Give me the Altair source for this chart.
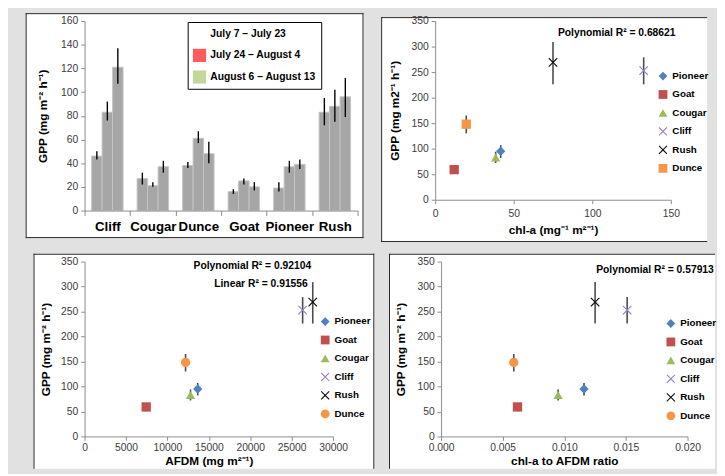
import altair as alt
import pandas as pd

FONT = "Liberation Sans, Arial, sans-serif"
FRAME = "#262626"
AXIS_GRAY = "#8c8c8c"
LABEL = "#3a3a3a"

# ---------------- Panel 1: bar chart data ----------------
sites_bar = ["Cliff", "Cougar", "Dunce", "Goat", "Pioneer", "Rush"]
periods = ["July 7 – July 23", "July 24 – August 4", "August 6 – August 13"]
period_colors = ["#ffffff", "#ff5b5f", "#c4d79b"]
gpp_period1 = [46, 27, 38, 16, 19, 83]
gpp_period2 = [83, 21, 61, 25, 37, 88]
gpp_period3 = [121, 37, 48, 20, 39, 96]
lo_period1 = [43, 22, 36, 14, 16, 72]
hi_period1 = [50, 32, 41, 18, 24, 95]
lo_period2 = [76, 20, 57, 22, 32, 75]
hi_period2 = [92, 24, 67, 27, 42, 102]
lo_period3 = [107, 32, 40, 17, 35, 79]
hi_period3 = [137, 42, 58, 24, 43, 112]
y1_ticks = [0, 20, 40, 60, 80, 100, 120, 140, 160]

# ---------------- Panels 2-4: scatter data ----------------
sites = ["Pioneer", "Goat", "Cougar", "Cliff", "Rush", "Dunce"]
site_colors = ["#4f81bd", "#c0504d", "#9bbb59", "#9a86c0", "#111111", "#f79646"]
gpp_total = [95, 59, 83, 253, 269, 148]
gpp_lo = [82, 51, 72, 226, 226, 130]
gpp_hi = [107, 67, 94, 279, 309, 165]
chla = [41.7, 12.1, 38.5, 132.7, 75.0, 19.8]
afdm = [13660, 7440, 12790, 26330, 27550, 12190]
ratio = [0.0116, 0.0062, 0.0095, 0.0151, 0.0125, 0.0059]
y_ticks = [0, 50, 100, 150, 200, 250, 300, 350]
chla_ticks = [0, 50, 100, 150]
afdm_ticks = [0, 5000, 10000, 15000, 20000, 25000, 30000]
ratio_ticks = [0.0, 0.005, 0.010, 0.015, 0.020]
notes_chla = ["Polynomial R² = 0.68621"]
notes_afdm = ["Polynomial R² = 0.92104", "Linear R² = 0.91556"]
notes_ratio = ["Polynomial R² = 0.57913"]

X_PATH = "M-0.82,-1L0,-0.18L0.82,-1L1,-0.82L0.18,0L1,0.82L0.82,1L0,0.18L-0.82,1L-1,0.82L-0.18,0L-1,-0.82Z"

gpp_by = [gpp_period1, gpp_period2, gpp_period3]
lo_by = [lo_period1, lo_period2, lo_period3]
hi_by = [hi_period1, hi_period2, hi_period3]
rows = []
for i, s in enumerate(sites_bar):
    for j, p in enumerate(periods):
        rows.append({"site": s, "period": p, "gpp": gpp_by[j][i],
                     "lo": lo_by[j][i], "hi": hi_by[j][i]})
bar_df = pd.DataFrame(rows)

sc_df = pd.DataFrame({"Site": sites, "gpp": gpp_total, "lo": gpp_lo, "hi": gpp_hi,
                      "chla": chla, "afdm": afdm, "ratio": ratio})

ONE = pd.DataFrame({"k": [0]})


def frame_layers(left, right, top, bottom, edges):
    base = alt.Chart(ONE)
    out = [base.mark_rect(fill="white", strokeWidth=0).encode(
        x=alt.value(left), x2=alt.value(right), y=alt.value(top), y2=alt.value(bottom))]
    rule = dict(color=FRAME, strokeWidth=1)
    if "l" in edges:
        out.append(base.mark_rule(**rule).encode(
            x=alt.value(left + 0.5), y=alt.value(top), y2=alt.value(bottom)))
    if "r" in edges:
        out.append(base.mark_rule(**rule).encode(
            x=alt.value(right - 0.5), y=alt.value(top), y2=alt.value(bottom)))
    if "t" in edges:
        out.append(base.mark_rule(**rule).encode(
            x=alt.value(left), x2=alt.value(right), y=alt.value(top + 0.5)))
    if "b" in edges:
        out.append(base.mark_rule(**rule).encode(
            x=alt.value(left), x2=alt.value(right), y=alt.value(bottom - 0.5)))
    return out


def y_axis(title, tp, values):
    return alt.Axis(values=values, title=title, labelFont=FONT, labelFontSize=10.5,
                    labelColor=LABEL, labelPadding=3, tickSize=4, tickColor=AXIS_GRAY,
                    domainColor=AXIS_GRAY, titleFont=FONT, titleFontSize=12,
                    titleFontWeight="bold", titleColor="black", titlePadding=tp,
                    labelFlush=False, labelOverlap=False, grid=False, zindex=1)


# ---------------- Panel 1 ----------------
W1, H1 = 278, 193
x1_axis = alt.Axis(title=None, labelAngle=0, labelFont=FONT, labelFontSize=13.5,
                   labelFontWeight="bold", labelColor="black", labelPadding=4,
                   tickBand="extent", tickSize=5, tickColor=AXIS_GRAY,
                   domainColor=AXIS_GRAY, grid=False, zindex=1)
x1 = alt.X("site:N", sort=sites_bar,
           scale=alt.Scale(domain=sites_bar, paddingInner=0, paddingOuter=0), axis=x1_axis)
xo1 = alt.XOffset("period:N", sort=periods,
                  scale=alt.Scale(domain=periods, paddingInner=0, paddingOuter=0.67))
y1_axis = y_axis("GPP (mg m⁻² h⁻¹)", 11, y1_ticks)
y1_scale = alt.Scale(domain=[0, 160], nice=False)

bars = alt.Chart(bar_df).mark_bar(fill="#a6a6a6", stroke="#c4c4c4", strokeWidth=1).encode(
    x=x1, xOffset=xo1,
    y=alt.Y("gpp:Q", scale=y1_scale, axis=y1_axis, stack=None))
errs1 = alt.Chart(bar_df).mark_rule(color="black", strokeWidth=1.4).encode(
    x=x1, xOffset=xo1,
    y=alt.Y("lo:Q", scale=y1_scale, axis=y1_axis), y2="hi:Q")
legend1 = alt.Chart(bar_df).transform_filter("false").mark_square(size=190, opacity=1).encode(
    fill=alt.Fill("period:N", sort=periods,
                  scale=alt.Scale(domain=periods, range=period_colors),
                  legend=alt.Legend(orient="none", legendX=105, legendY=1, title=None,
                                    symbolType="square", symbolSize=180, symbolStrokeWidth=0,
                                    labelFont=FONT, labelFontSize=10.5, labelFontWeight="bold",
                                    labelColor="black", labelOffset=4, rowPadding=8, padding=5,
                                    strokeColor="black", fillColor="white", labelLimit=200,
                                    zindex=1)))
p1 = alt.layer(*frame_layers(-60, 284, -8, 221, "lrtb"), bars, errs1, legend1).properties(
    width=W1, height=H1)


# ---------------- Scatter panels ----------------
def scatter_panel(xfield, xdom, xvals, xfmt, xtitle, ytitle, W, H, fr, edges, dunce_shape,
                  lx, ly, notes, ytp, xlp, xtp):
    shapes = ["diamond", "square", "triangle-up", X_PATH, X_PATH, dunce_shape]
    leg = alt.Legend(orient="none", legendX=lx, legendY=ly, title=None, labelFont=FONT,
                     labelFontSize=10, labelFontWeight="bold", labelColor="black",
                     labelOffset=4.5, rowPadding=8.8, symbolSize=80, symbolStrokeWidth=0,
                     padding=0, labelLimit=80, zindex=1)
    xaxis = alt.Axis(values=xvals, format=xfmt, title=xtitle, labelFont=FONT, labelFontSize=10.5,
                     labelColor=LABEL, labelPadding=xlp, tickSize=4, tickColor=AXIS_GRAY,
                     domainColor=AXIS_GRAY, titleFont=FONT, titleFontSize=12,
                     titleFontWeight="bold", titleColor="black", titlePadding=xtp,
                     labelFlush=False, labelOverlap=False, grid=False, zindex=1)
    xscale = alt.Scale(domain=xdom, nice=False, zero=False)
    yaxis = y_axis(ytitle, ytp, y_ticks)
    yscale = alt.Scale(domain=[0, 350], nice=False)
    errs = alt.Chart(sc_df).mark_rule(color="#4a4a4a", strokeWidth=1.6).encode(
        x=alt.X(f"{xfield}:Q", scale=xscale, axis=xaxis),
        y=alt.Y("lo:Q", scale=yscale, axis=yaxis), y2="hi:Q")
    pts = alt.Chart(sc_df).mark_point(filled=True, opacity=1, size=90).encode(
        x=alt.X(f"{xfield}:Q", scale=xscale, axis=xaxis),
        y=alt.Y("gpp:Q", scale=yscale, axis=yaxis),
        color=alt.Color("Site:N", sort=sites, scale=alt.Scale(domain=sites, range=site_colors),
                        legend=leg),
        shape=alt.Shape("Site:N", sort=sites, scale=alt.Scale(domain=sites, range=shapes),
                        legend=leg))
    layers = frame_layers(*fr, edges) + [errs, pts]
    for text, px, py, lim in notes:
        layers.append(alt.Chart(pd.DataFrame({"note": [text]})).mark_text(
            align="left", baseline="middle", font=FONT, fontSize=10.5, fontWeight="bold",
            color="black", limit=lim, ellipsis=" ").encode(
            x=alt.value(px), y=alt.value(py), text="note:N"))
    return alt.layer(*layers).properties(width=W, height=H)


p2 = scatter_panel("chla", [0, 150], chla_ticks, "d", "chl-a (mg⁻¹ m²⁻¹)",
                   "GPP (mg m2⁻¹ h⁻¹)", 240, 182, (-55, 277, -4, 225), "ltb", "square",
                   227, 51, [(notes_chla[0], 125, 12, 150)], ytp=10, xlp=5, xtp=6)
p3 = scatter_panel("afdm", [0, 30000], afdm_ticks, "d", "AFDM (mg m²⁻¹)",
                   "GPP (mg m⁻² h⁻¹)", 253, 178, (-52, 295, -8, 211), "ltr", "circle",
                   240, 56, [(notes_afdm[0], 111, 5, 150), (notes_afdm[1], 132, 23, 150)],
                   ytp=8, xlp=2, xtp=3)
p4 = scatter_panel("ratio", [0, 0.02], ratio_ticks, ".3f", "chl-a to AFDM ratio",
                   "GPP (mg m⁻² h⁻¹)", 251, 178, (-53, 279, -8, 211), "lt", "circle",
                   229, 58, [(notes_ratio[0], 158, 9, 120)], ytp=9.5, xlp=2, xtp=3)

indep = dict(x="independent", y="independent", color="independent",
             shape="independent", fill="independent")
row1 = alt.hconcat(p1, p2, spacing=16).resolve_scale(**indep).resolve_legend(
    color="independent", shape="independent", fill="independent")
row2 = alt.hconcat(p3, p4, spacing=13).resolve_scale(**indep).resolve_legend(
    color="independent", shape="independent", fill="independent")

chart = alt.vconcat(row1, row2, spacing=10).resolve_scale(**indep).resolve_legend(
    color="independent", shape="independent", fill="independent").properties(
    padding={"left": 17, "top": 0, "right": 0, "bottom": 0},
    background="#e1e1e1",
).configure(font=FONT).configure_view(strokeWidth=0)

chart.save("out.html", embed_options={"renderer": "svg", "actions": False})
